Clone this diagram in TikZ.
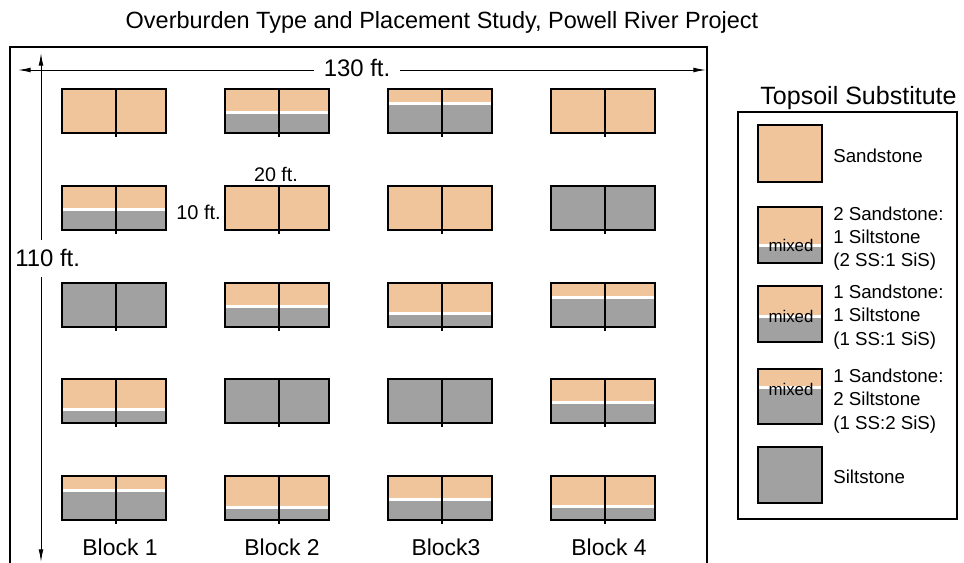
\documentclass[tikz,border=0pt]{standalone}
\usepackage{fontspec}
\setmainfont{Liberation Sans}
\usepackage{xcolor}
\usepackage{tikz}
\usetikzlibrary{arrows.meta,positioning}
\definecolor{sandcol}{RGB}{240,197,155}
\definecolor{siltcol}{RGB}{161,161,161}
\newcommand{\setfs}[1]{\fontsize{#1pt}{#1pt}\selectfont}
\tikzset{sand/.style={fill=sandcol},
	silt/.style={fill=siltcol},
	seam/.style={draw=white,line width=2.1pt},
	boxline/.style={draw=black,line width=0.8pt},
	lbl/.style={inner sep=0pt,anchor=base},
	legtext/.style={inner sep=0pt,anchor=base west,align=left,font=\fontsize{13.3pt}{16.6pt}\selectfont}}
% left, top, width, height, sandstone depth
\newcommand{\soilbox}[5]{%
	\fill[sand] (#1,#2) rectangle ++(#3,#5);
	\fill[silt] (#1,#2+#5) rectangle (#1+#3,#2+#4);
	\ifnum#5>0 \ifnum#5<#4 \draw[seam] (#1,#2+#5+1.5) -- ++(#3,0);\fi\fi
	\draw[boxline] (#1,#2) rectangle ++(#3,#4);}
% left, top, sandstone depth
\newcommand{\plotpair}[3]{%
	\soilbox{#1}{#2}{104}{44}{#3}
	\draw[boxline] (#1+54,#2) -- ++(0,48);}

\begin{document}
\begin{tikzpicture}[x=0.025cm,y=-0.025cm,>={Latex[length=9pt,width=3.4pt]}]
	\useasboundingbox (0,0) rectangle (964,563);
		\node[lbl] (title) at (442,29) {\setfs{16.7}Overburden Type and Placement Study, Powell River Project};
		\draw[line width=1pt] (10,563) -- (10,47) -- (707,47) -- (707,563);

		% dimensions
		\coordinate (hl) at (18,70);
		\coordinate (hr) at (706,70);
		\coordinate (vt) at (41,53);
		\coordinate (vb) at (41,562);
		\node[inner xsep=7pt,inner ysep=0pt] (w130) at (357,68) {\setfs{17}130 ft.};
		\node[anchor=base west,inner xsep=0pt,inner ysep=6.8pt] (h110) at (15,267) {\setfs{17}110 ft.};
		\draw [->,line width=0.7pt] (w130.west |- hl) -- (hl);
		\draw [->,line width=0.7pt] (w130.east |- hr) -- (hr);
		\draw [->,line width=0.7pt] (h110.north -| vt) -- (vt);
		\draw [->,line width=0.7pt] (h110.south -| vt) -- (vb);

		% plots, block 1 to 4
		\plotpair{62}{89}{44}  \plotpair{225}{89}{22}  \plotpair{388}{89}{13}  \plotpair{551}{89}{44}
		\plotpair{62}{186}{22} \plotpair{225}{186}{44} \plotpair{388}{186}{44} \plotpair{551}{186}{0}
		\plotpair{62}{283}{0}  \plotpair{225}{283}{22} \plotpair{388}{283}{29} \plotpair{551}{283}{13}
		\plotpair{62}{379}{29} \plotpair{225}{379}{0}  \plotpair{388}{379}{0}  \plotpair{551}{379}{22}
		\plotpair{62}{476}{13} \plotpair{225}{476}{30} \plotpair{388}{476}{22} \plotpair{551}{476}{29}

		\node[lbl] (w20) at (276,181.5) {\setfs{14}20 ft.};
		\node[lbl,anchor=base east] (w10) at (221,220) {\setfs{14.2}10 ft.};

		\node[lbl] (blk1) at (120,555) {\setfs{16.3}Block 1};
		\node[lbl] (blk2) at (282,555) {\setfs{16.3}Block 2};
		\node[lbl] (blk3) at (446,555) {\setfs{16.3}Block3};
		\node[lbl] (blk4) at (609,555) {\setfs{16.3}Block 4};

		% legend
		\node[lbl] (legtitle) at (858.5,105) {\setfs{17.8}Topsoil Substitute};
		\draw[line width=0.9pt] (738,112) rectangle (957,519);
		\soilbox{758}{125}{64}{57}{57}
		\soilbox{758}{207}{64}{56}{37}
		\soilbox{758}{286}{64}{56}{29}
		\soilbox{758}{369}{64}{55}{17}
		\soilbox{758}{447}{64}{56}{0}
		\node[lbl] (mix21) at (791,252) {\setfs{12}mixed};
		\node[lbl] (mix11) at (791,322) {\setfs{12}mixed};
		\node[lbl] (mix12) at (791,395) {\setfs{12}mixed};
		\node[legtext] (ss) at (833,163) {Sandstone};
		\node[legtext] (ss21) at (833,267) {2 Sandstone:\\1 Siltstone\\(2 SS:1 SiS)};
		\node[legtext] (ss11) at (833,345) {1 Sandstone:\\1 Siltstone\\(1 SS:1 SiS)};
		\node[legtext] (ss12) at (833,429) {1 Sandstone:\\2 Siltstone\\(1 SS:2 SiS)};
		\node[legtext] (sis) at (833,483) {Siltstone};
    \end{tikzpicture}
\end{document}
